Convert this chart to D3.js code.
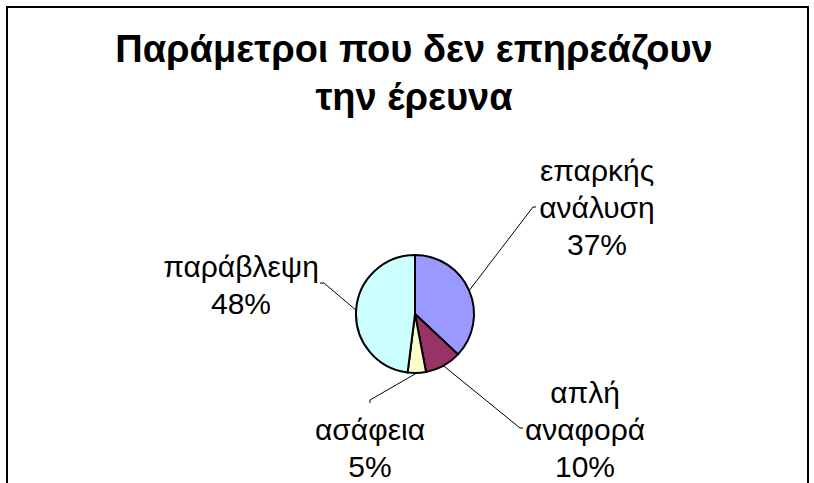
<!DOCTYPE html>
<html><head><meta charset="utf-8">
<script src="https://cdn.jsdelivr.net/npm/d3@7"></script>
<style>html,body{margin:0;padding:0;background:#fff;}svg{display:block;}</style>
</head><body>
<script>
const categories = ["επαρκής ανάλυση", "απλή αναφορά", "ασάφεια", "παράβλεψη"];
const values = [37, 10, 5, 48];
const labelLines = [["επαρκής","ανάλυση","37%"],["απλή","αναφορά","10%"],["ασάφεια","5%"],["παράβλεψη","48%"]];
const colors = ["#9999FF", "#993366", "#FFFFCC", "#CCFFFF"];
const titleLines = ["Παράμετροι που δεν επηρεάζουν", "την έρευνα"];

// layout (not data)
const W = 814, H = 483;
const cx = 415, cy = 314, R = 59;
const labelLayout = [
  {x: 597, y: 181, elbow: [533, 207], tick: [536, 207]},
  {x: 585, y: 403, elbow: [520, 428], tick: [523, 428]},
  {x: 370, y: 440, elbow: [370, 400], tick: [370, 403]},
  {x: 241, y: 277, elbow: [324, 283], tick: [320, 283]}
];
const lineH = 37;

const svg = d3.select("body").append("svg").attr("width", W).attr("height", H);
svg.append("rect").attr("width", W).attr("height", H).attr("fill", "#fff");
svg.append("path").attr("d", `M7,${H+5} L7,7 L808,7 L808,${H+5}`)
  .attr("fill","none").attr("stroke","#000").attr("stroke-width",2);

const title = svg.append("text").attr("text-anchor","middle")
  .attr("font-family","'Liberation Sans', Arial, sans-serif")
  .attr("font-weight","bold").attr("font-size",38).attr("fill","#000");
titleLines.forEach((t,i)=> title.append("tspan").attr("x",414).attr("y",62 + i*48).text(t));

const pie = d3.pie().sort(null).value(d=>d);
const arcs = pie(values);
const arc = d3.arc().innerRadius(0).outerRadius(R);
const g = svg.append("g").attr("transform",`translate(${cx},${cy})`);
g.selectAll("path.slice").data(arcs).join("path").attr("class","slice")
  .attr("d", arc).attr("fill",(d,i)=>colors[i])
  .attr("stroke","#000").attr("stroke-width",2).attr("stroke-linejoin","round");

// leader lines and labels
arcs.forEach((a,i)=>{
  const mid = (a.startAngle + a.endAngle)/2;
  const sx = cx + R*Math.sin(mid), sy = cy - R*Math.cos(mid);
  const L = labelLayout[i];
  svg.append("polyline").attr("points", `${sx},${sy} ${L.elbow[0]},${L.elbow[1]} ${L.tick[0]},${L.tick[1]}`)
    .attr("fill","none").attr("stroke","#000").attr("stroke-width",1);
  const t = svg.append("text").attr("text-anchor","middle")
    .attr("font-family","'Liberation Sans', Arial, sans-serif")
    .attr("font-size",30).attr("fill","#000");
  labelLines[i].forEach((ln,j)=> t.append("tspan").attr("x",L.x).attr("y",L.y + j*lineH).text(ln));
});
</script>
</body></html>
